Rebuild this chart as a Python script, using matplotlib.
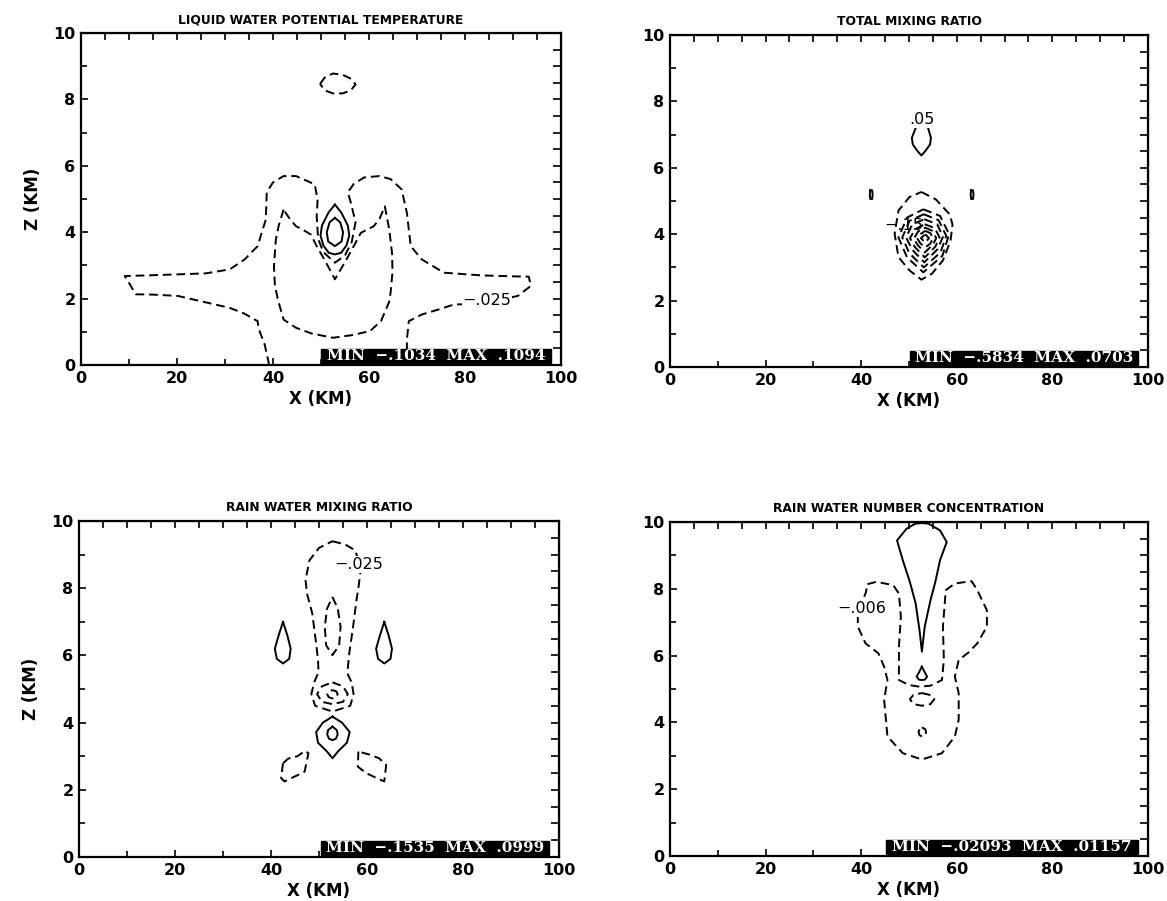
import matplotlib
matplotlib.use("Agg")
import matplotlib.pyplot as plt
import numpy as np
from matplotlib.patches import Rectangle

plt.rcParams["font.family"] = "DejaVu Sans"

# ---- panel titles / min-max boxes ----
titles = ["LIQUID WATER POTENTIAL TEMPERATURE", "TOTAL MIXING RATIO",
          "RAIN WATER MIXING RATIO", "RAIN WATER NUMBER CONCENTRATION"]
minmax = ["MIN  \u2212.1034  MAX  .1094", "MIN  \u2212.5834  MAX  .0703",
          "MIN  \u2212.1535  MAX  .0999", "MIN  \u2212.02093  MAX  .01157"]
minmax_x0 = [50.0, 50.3, 50.4, 45.2]

# ---- contour lines, (x km, z km) ----
# liquid water potential temperature
lwpt_cap = [(49.8, 8.47), (50.8, 8.66), (52.5, 8.78), (54.5, 8.74), (56.3, 8.62), (57.2, 8.45),
            (56.2, 8.27), (54.5, 8.18), (52.5, 8.18), (50.8, 8.27), (49.8, 8.47)]
lwpt_outer = [(39.2, 0.0), (38.3, 0.6), (37.0, 1.1), (36.8, 1.32), (34.0, 1.55), (31.0, 1.72),
              (25.0, 1.92), (20.2, 2.08), (15.0, 2.12), (11.4, 2.13), (10.3, 2.4), (9.1, 2.68),
              (14.0, 2.7), (20.2, 2.73), (26.0, 2.76), (31.0, 2.88), (34.1, 3.18), (36.8, 3.58),
              (38.5, 4.38), (38.7, 5.2), (40.0, 5.5), (42.2, 5.69), (44.8, 5.69), (47.0, 5.55),
              (48.7, 5.44), (49.3, 4.98), (49.1, 4.48), (49.4, 3.8), (50.5, 3.4), (52.9, 3.08),
              (55.0, 3.3), (56.4, 3.7), (57.2, 4.3), (56.2, 4.9), (55.6, 5.2), (56.8, 5.45),
              (59.0, 5.65), (62.2, 5.69), (64.5, 5.6), (66.8, 5.29), (67.9, 4.58), (68.7, 3.58),
              (71.0, 3.18), (75.6, 2.78), (83.3, 2.7), (90.0, 2.67), (93.3, 2.66), (93.7, 2.38),
              (91.0, 2.08), (86.0, 1.93), (81.0, 1.82), (77.9, 1.83), (74.0, 1.65), (71.0, 1.52),
              (68.3, 1.32), (67.9, 0.77), (67.9, 0.0)]
lwpt_inner = [(42.2, 4.68), (41.2, 4.2), (40.6, 3.78), (40.2, 2.98), (40.4, 2.4), (41.0, 1.98),
              (42.2, 1.37), (44.8, 1.12), (48.0, 0.95), (52.5, 0.82), (56.5, 0.9), (60.2, 1.02),
              (62.5, 1.32), (64.2, 1.9), (64.5, 2.18), (64.9, 2.8), (64.8, 3.38), (64.2, 4.1),
              (63.3, 4.78), (62.2, 4.4), (61.0, 4.18), (58.3, 3.98), (57.2, 3.68), (55.0, 3.1),
              (52.9, 2.58), (51.0, 3.1), (49.1, 3.58), (47.9, 3.93), (46.5, 4.05), (44.8, 4.18),
              (43.5, 4.4), (42.2, 4.68)]
lwpt_core_outer = [(52.9, 4.83), (54.2, 4.6), (55.6, 4.2), (55.9, 3.9), (55.3, 3.6), (54.2, 3.38),
                   (52.9, 3.33), (51.6, 3.38), (50.5, 3.6), (49.9, 3.9), (50.2, 4.2), (51.6, 4.6),
                   (52.9, 4.83)]
lwpt_core_inner = [(52.9, 4.43), (54.0, 4.3), (54.6, 4.0), (54.3, 3.72), (52.9, 3.58), (51.5, 3.72),
                   (51.2, 4.0), (51.8, 4.3), (52.9, 4.43)]

# total mixing ratio
tmr_cap = [(51.4, 7.2), (50.6, 6.9), (50.8, 6.7), (51.8, 6.5), (52.6, 6.37), (53.4, 6.5),
           (54.4, 6.7), (54.6, 6.9), (54.0, 7.2)]
tmr_dot_left = [(41.9, 5.32), (42.3, 5.32), (42.4, 5.2), (42.3, 5.06), (41.9, 5.06), (41.8, 5.2),
                (41.9, 5.32)]
tmr_dot_right = [(63.0, 5.32), (63.4, 5.32), (63.5, 5.2), (63.4, 5.06), (63.0, 5.06), (62.9, 5.2),
                 (63.0, 5.32)]
tmr_ring1 = [(52.6, 5.27), (55.6, 5.05), (58.5, 4.6), (59.1, 4.3), (58.7, 3.8), (57.1, 3.21),
             (54.8, 2.81), (52.6, 2.63), (50.1, 2.91), (47.8, 3.31), (47.0, 4.01), (47.8, 4.71),
             (50.1, 5.12), (52.6, 5.27)]
tmr_ring2 = [(53.0, 4.75), (56.5, 4.55), (58.4, 4.0), (57.0, 3.35), (53.0, 2.85), (49.6, 3.3),
             (47.8, 3.9), (49.6, 4.5), (53.0, 4.75)]
tmr_ring3 = [(53.1, 4.6), (56.2, 4.42), (57.8, 3.95), (56.6, 3.45), (53.1, 3.0), (50.1, 3.42),
             (48.6, 3.9), (50.1, 4.4), (53.1, 4.6)]
tmr_ring4 = [(53.2, 4.45), (55.9, 4.3), (57.1, 3.92), (56.0, 3.55), (53.2, 3.15), (50.7, 3.53),
             (49.4, 3.9), (50.7, 4.3), (53.2, 4.45)]
tmr_ring5 = [(53.3, 4.3), (55.4, 4.18), (56.4, 3.9), (55.5, 3.62), (53.3, 3.3), (51.3, 3.6),
             (50.2, 3.88), (51.3, 4.15), (53.3, 4.3)]
tmr_ring6 = [(53.3, 4.2), (54.9, 4.1), (55.7, 3.88), (55.0, 3.68), (53.3, 3.45), (51.9, 3.66),
             (51.0, 3.86), (51.9, 4.08), (53.3, 4.2)]
tmr_ring7 = [(53.4, 4.1), (54.5, 4.03), (55.0, 3.87), (54.5, 3.72), (53.4, 3.6), (52.4, 3.72),
             (51.8, 3.86), (52.4, 4.0), (53.4, 4.1)]
tmr_ring8 = [(53.4, 4.0), (54.2, 3.88), (53.4, 3.75), (52.5, 3.88), (53.4, 4.0)]

# rain water mixing ratio
rwmr_plume = [(52.8, 9.4), (55.5, 9.3), (57.5, 9.13), (58.6, 8.7), (58.6, 8.44), (58.2, 8.0),
              (57.8, 7.64), (57.1, 6.85), (56.3, 6.06), (55.9, 5.47), (56.8, 5.2), (57.2, 4.85),
              (56.5, 4.5), (52.8, 4.33), (49.2, 4.5), (48.4, 4.85), (49.0, 5.2), (49.9, 5.5),
              (49.8, 5.86), (49.4, 6.36), (48.6, 7.25), (47.5, 7.84), (47.2, 8.24), (48.0, 8.83),
              (50.0, 9.2), (52.8, 9.4)]
rwmr_ring_a = [(52.8, 5.2), (55.0, 5.08), (56.0, 4.85), (55.0, 4.62), (52.8, 4.55), (50.6, 4.62),
               (49.6, 4.85), (50.6, 5.08), (52.8, 5.2)]
rwmr_ring_b = [(52.8, 4.97), (53.6, 4.93), (53.9, 4.85), (53.6, 4.76), (52.8, 4.72), (52.0, 4.76),
               (51.7, 4.85), (52.0, 4.93), (52.8, 4.97)]
rwmr_column = [(52.8, 7.74), (53.9, 7.4), (54.5, 6.85), (54.2, 6.3), (52.8, 6.01), (51.5, 6.3),
               (51.2, 6.85), (51.7, 7.4), (52.8, 7.74)]
rwmr_drop_left = [(42.5, 7.0), (43.4, 6.6), (44.1, 6.2), (43.8, 5.9), (42.5, 5.76), (41.2, 5.9),
                  (40.8, 6.2), (41.6, 6.6), (42.5, 7.0)]
rwmr_drop_right = [(63.6, 7.0), (64.5, 6.6), (65.2, 6.2), (64.9, 5.9), (63.6, 5.76), (62.3, 5.9),
                   (61.9, 6.2), (62.7, 6.6), (63.6, 7.0)]
rwmr_core_outer = [(52.8, 4.18), (54.8, 4.0), (56.4, 3.72), (55.8, 3.4), (54.0, 3.15), (52.8, 2.94),
                   (51.6, 3.15), (49.8, 3.4), (49.4, 3.72), (50.8, 4.0), (52.8, 4.18)]
rwmr_core_inner = [(52.8, 3.88), (53.7, 3.78), (53.9, 3.65), (53.5, 3.52), (52.8, 3.48), (52.1, 3.52),
                   (51.7, 3.65), (51.9, 3.78), (52.8, 3.88)]
rwmr_wing_left = [(42.5, 2.79), (42.1, 2.35), (42.8, 2.25), (45.0, 2.4), (47.0, 2.54), (47.8, 3.09),
                  (47.1, 3.16), (45.5, 3.0), (43.6, 2.93), (42.5, 2.79)]
rwmr_wing_right = [(58.2, 3.14), (58.1, 2.69), (59.8, 2.5), (62.0, 2.35), (63.6, 2.25), (64.0, 2.74),
                   (62.5, 2.94), (60.5, 3.05), (58.2, 3.14)]

# rain water number concentration
rwnc_spike = [(52.7, 9.97), (54.1, 9.95), (56.5, 9.75), (57.9, 9.4), (56.5, 8.86), (55.5, 8.2),
              (54.5, 7.66), (53.3, 6.87), (52.7, 6.12), (52.2, 6.77), (51.4, 7.56), (50.2, 8.2),
              (48.7, 8.86), (47.5, 9.45), (49.5, 9.8), (51.3, 9.95), (52.7, 9.97)]
rwnc_knob = [(52.7, 5.67), (53.3, 5.5), (53.8, 5.37), (53.3, 5.28), (52.7, 5.27), (52.1, 5.28),
             (51.6, 5.37), (52.1, 5.5), (52.7, 5.67)]
rwnc_outer = [(41.3, 8.14), (43.2, 8.21), (46.7, 8.11), (47.9, 7.86), (48.3, 7.16), (47.9, 6.27),
              (47.9, 5.27), (50.0, 5.12), (52.2, 5.07), (54.5, 5.1), (56.9, 5.27), (57.3, 5.87),
              (57.1, 6.87), (57.7, 7.96), (59.6, 8.16), (63.1, 8.23), (64.3, 7.96), (66.3, 7.36),
              (66.3, 6.87), (64.3, 6.37), (62.5, 6.1), (60.4, 5.87), (59.6, 5.37), (60.4, 4.88),
              (60.4, 4.08), (59.6, 3.58), (56.9, 3.08), (52.7, 2.89), (48.7, 3.08), (45.5, 3.58),
              (44.8, 4.68), (45.5, 5.27), (44.8, 5.67), (43.6, 6.07), (40.9, 6.37), (39.3, 6.87),
              (39.3, 7.16), (40.2, 7.6), (41.0, 7.9), (41.3, 8.14)]
rwnc_eye = [(52.7, 4.88), (54.5, 4.82), (55.3, 4.7), (54.5, 4.55), (52.7, 4.5), (50.9, 4.55),
            (50.2, 4.7), (50.9, 4.82), (52.7, 4.88)]
rwnc_speck = [(52.7, 3.85), (53.4, 3.8), (53.6, 3.7), (53.2, 3.6), (52.7, 3.58), (52.2, 3.62),
              (52.0, 3.72), (52.3, 3.82), (52.7, 3.85)]

# contour labels: (text, x, z)
lwpt_label = ("\u2212.025", 84.5, 1.93)
tmr_labels = [(".05", 52.8, 7.45), ("\u2212.15", 49.0, 4.25)]
rwmr_label = ("\u2212.025", 58.3, 8.71)
rwnc_label = ("\u2212.006", 40.1, 7.41)

DASH = (0, (4.5, 2.5))


def draw_line(ax, pts, dashed=False):
    pts = np.array(pts)
    ax.plot(pts[:, 0], pts[:, 1], color="black", lw=1.4,
            linestyle=DASH if dashed else "-", solid_joinstyle="round")


def contour_label(ax, txt, x, z, box=True):
    kw = dict(facecolor="white", edgecolor="none", pad=0.5) if box else None
    ax.text(x, z, txt, fontsize=11.5, ha="center", va="center", bbox=kw, zorder=4)


def setup_panel(rect, title, mm, mm_x0, ylabel):
    ax = fig.add_axes(rect)
    ax.set_xlim(0, 100)
    ax.set_ylim(0, 10)
    for s in ax.spines.values():
        s.set_linewidth(1.6)
    ax.set_xticks([0, 20, 40, 60, 80, 100])
    ax.set_xticks([10, 30, 50, 70, 90], minor=True)
    ax.set_yticks([0, 2, 4, 6, 8, 10])
    ax.set_yticks([1, 3, 5, 7, 9], minor=True)
    ax.tick_params(which="both", direction="in", width=1.2, labelsize=11.5, pad=4)
    ax.tick_params(which="major", length=5)
    ax.tick_params(which="minor", length=4)
    for lab in ax.get_xticklabels() + ax.get_yticklabels():
        lab.set_fontweight("bold")
    top = ax.secondary_xaxis("top")
    top.set_xticks(np.arange(0, 101, 5))
    top.set_xticklabels([])
    top.tick_params(direction="in", length=5, width=1.2)
    right = ax.secondary_yaxis("right")
    right.set_yticks(np.arange(0, 10.01, 0.5))
    right.set_yticklabels([])
    right.tick_params(direction="in", length=6, width=1.2)
    ax.set_xlabel("X (KM)", fontsize=12, fontweight="bold", labelpad=3)
    if ylabel:
        ax.set_ylabel("Z (KM)", fontsize=12, fontweight="bold", labelpad=8)
    ax.set_title(title, fontsize=8.8, fontweight="bold", pad=7)
    ax.add_patch(Rectangle((mm_x0, 0.05), 98.0 - mm_x0, 0.44, facecolor="black",
                           edgecolor="black", zorder=5))
    ax.text((mm_x0 + 98.0) / 2, 0.27, mm, color="white", fontsize=11, fontweight="bold",
            family="DejaVu Serif", ha="center", va="center", zorder=6)
    return ax


fig = plt.figure(figsize=(11.67, 9.01), dpi=100)

rects = [[0.0694, 0.5949, 0.4113, 0.3685], [0.5741, 0.5927, 0.4096, 0.3685],
         [0.0677, 0.0488, 0.4113, 0.3729], [0.5741, 0.0499, 0.4096, 0.3707]]

# liquid water potential temperature
ax = setup_panel(rects[0], titles[0], minmax[0], minmax_x0[0], True)
for c in [lwpt_cap, lwpt_outer, lwpt_inner]:
    draw_line(ax, c, dashed=True)
for c in [lwpt_core_outer, lwpt_core_inner]:
    draw_line(ax, c)
contour_label(ax, *lwpt_label)

# total mixing ratio
ax = setup_panel(rects[1], titles[1], minmax[1], minmax_x0[1], False)
for c in [tmr_cap, tmr_dot_left, tmr_dot_right]:
    draw_line(ax, c)
for c in [tmr_ring1, tmr_ring2, tmr_ring3, tmr_ring4, tmr_ring5, tmr_ring6, tmr_ring7, tmr_ring8]:
    draw_line(ax, c, dashed=True)
contour_label(ax, *tmr_labels[0])
contour_label(ax, *tmr_labels[1], box=False)

# rain water mixing ratio
ax = setup_panel(rects[2], titles[2], minmax[2], minmax_x0[2], True)
for c in [rwmr_plume, rwmr_ring_a, rwmr_ring_b, rwmr_column, rwmr_wing_left, rwmr_wing_right]:
    draw_line(ax, c, dashed=True)
for c in [rwmr_drop_left, rwmr_drop_right, rwmr_core_outer, rwmr_core_inner]:
    draw_line(ax, c)
contour_label(ax, *rwmr_label)

# rain water number concentration
ax = setup_panel(rects[3], titles[3], minmax[3], minmax_x0[3], False)
for c in [rwnc_outer, rwnc_eye, rwnc_speck]:
    draw_line(ax, c, dashed=True)
for c in [rwnc_spike, rwnc_knob]:
    draw_line(ax, c)
contour_label(ax, *rwnc_label)

plt.savefig("out.png", dpi=100)
